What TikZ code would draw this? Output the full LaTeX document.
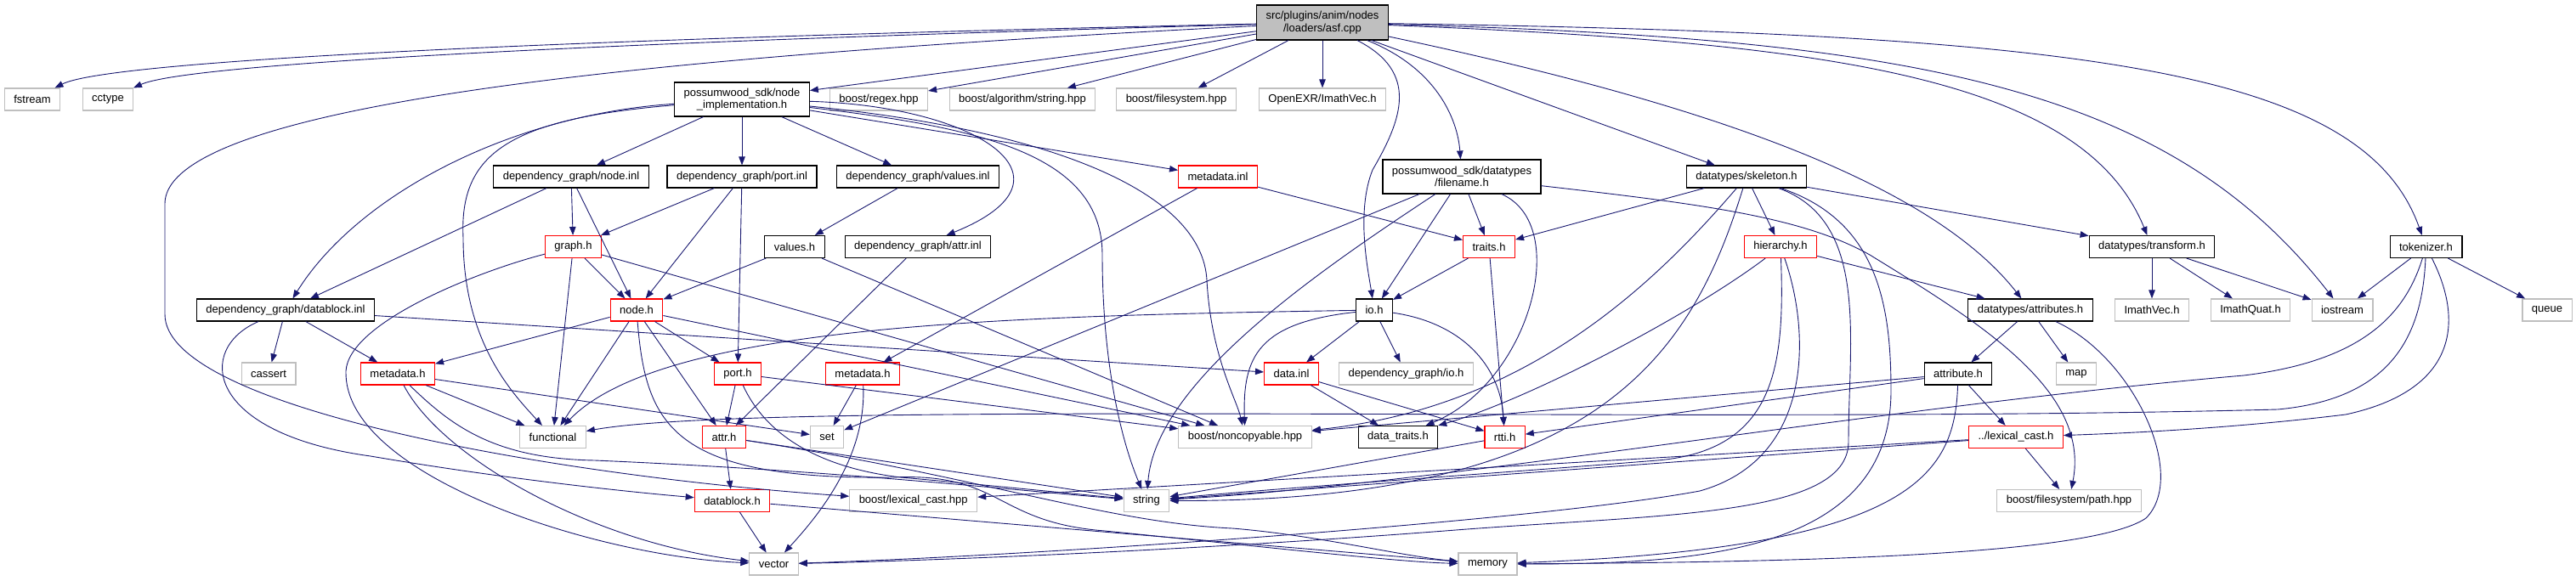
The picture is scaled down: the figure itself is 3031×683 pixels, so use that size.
\documentclass[tikz,border=0pt]{standalone}
\usepackage{fontspec}
\setmainfont{Liberation Sans}
\usetikzlibrary{arrows.meta}
\definecolor{Edge}{HTML}{191970}
\definecolor{Gray}{HTML}{BFBFBF}
\definecolor{Red}{HTML}{FF0000}
\tikzset{
  box/.style={rectangle,line width=1.1pt,fill=white,inner xsep=11pt,inner ysep=0pt,
    minimum height=26pt,align=center,font=\fontsize{13}{14.5}\selectfont},
  sysbox/.style={box,draw=Gray},
  docbox/.style={box,draw=black},
  redbox/.style={box,draw=Red},
  mainbox/.style={box,draw=black,fill=Gray,minimum height=41pt},
  dep/.style={draw=Edge,line width=0.9pt,-{Triangle[length=10pt,width=7.5pt]}}
}
\begin{document}
\begin{tikzpicture}[x=1pt,y=-1pt]
  \useasboundingbox (0,0) rectangle (3031,683);
  \node[mainbox] (main) at (1556,26.5) {src/plugins/anim/nodes\\/loaders/asf.cpp};
  \node[docbox,minimum height=40pt] (nodeimpl) at (873,117) {possumwood\_sdk/node\\\_implementation.h};
  \node[docbox,minimum height=40pt] (filename) at (1720,208) {possumwood\_sdk/datatypes\\/filename.h};
  \foreach \n/\x/\y/\lbl in {fstream/38/117/fstream, cctype/127/117/cctype,
      regex/1034/117/{boost/regex.hpp}, algstr/1203/117/{boost/algorithm/string.hpp},
      fsys/1384/117/{boost/filesystem.hpp}, exrvec/1556/117/{OpenEXR/ImathVec.h},
      imathvec/2532/365/ImathVec.h, imathquat/2648/365/ImathQuat.h,
      iostream/2756/365/iostream, queue/2997/365/queue,
      cassert/316/440/cassert, dgio/1654.5/440/{dependency\_graph/io.h}, stdmap/2443/440/map,
      functional/650.5/514.5/functional, stdset/973/514.5/set,
      noncopy/1465/514.5/{boost/noncopyable.hpp},
      lexcasthpp/1074.7/589.5/{boost/lexical\_cast.hpp}, stdstring/1349/589.5/string,
      fspath/2434.5/589.5/{boost/filesystem/path.hpp},
      stdvector/910.6/664/vector, stdmemory/1750.5/664/memory}
    \node[sysbox] (\n) at (\x,\y) {\lbl};
  \foreach \n/\x/\y/\lbl in {nodeinl/672/208/{dependency\_graph/node.inl},
      portinl/873/208/{dependency\_graph/port.inl}, valuesinl/1080/208/{dependency\_graph/values.inl},
      skeleton/2055/208/{datatypes/skeleton.h}, valuesh/935/290.5/values.h,
      attrinl/1080/290.5/{dependency\_graph/attr.inl}, transform/2532/290.5/{datatypes/transform.h},
      tokenizer/2854.5/290.5/tokenizer.h, datablockinl/336/365/{dependency\_graph/datablock.inl},
      io/1617/365/io.h, attributes/2389/365/{datatypes/attributes.h},
      attribute/2304/440/attribute.h, datatraits/1645/514.5/{data\_traits.h}}
    \node[docbox] (\n) at (\x,\y) {\lbl};
  \foreach \n/\x/\y/\lbl in {metainl/1433/208/metadata.inl, graph/674.5/290.5/graph.h,
      traits/1752/290.5/traits.h, hierarchy/2095/290.5/hierarchy.h, nodeh/749/365/node.h,
      metaleft/468/440/metadata.h, porth/868/440/port.h, metaright/1015/440/metadata.h,
      datainl/1519.5/440/data.inl, attrh/852/514.5/attr.h, rtti/1770.6/514.5/rtti.h,
      lexcast/2372/514.5/{../lexical\_cast.h}, datablockh/861.5/589.5/datablock.h}
    \node[redbox] (\n) at (\x,\y) {\lbl};

  \foreach \a/\b in {main/nodeimpl, main/regex, main/algstr, main/fsys, main/exrvec, main/skeleton,
      nodeimpl/nodeinl, nodeimpl/portinl, nodeimpl/valuesinl, nodeimpl/metainl,
      nodeinl/graph, nodeinl/nodeh, nodeinl/datablockinl, portinl/graph, portinl/nodeh, portinl/porth,
      valuesinl/valuesh, valuesh/nodeh, valuesh/noncopy, attrinl/attrh, metainl/metaright, metainl/traits,
      filename/stdset, filename/io, filename/traits, skeleton/traits, skeleton/hierarchy, skeleton/transform,
      hierarchy/attributes, transform/imathvec, transform/imathquat, transform/iostream,
      tokenizer/iostream, tokenizer/queue, attributes/attribute, attributes/stdmap,
      attribute/lexcast, attribute/noncopy, attribute/rtti, lexcast/fspath, lexcast/stdstring,
      lexcast/lexcasthpp, io/datainl, io/dgio, traits/io, traits/rtti, datainl/datatraits, datainl/rtti,
      datablockinl/cassert, datablockinl/metaleft, datablockinl/datainl,
      graph/nodeh, graph/functional, graph/noncopy, nodeh/metaleft, nodeh/functional, nodeh/porth,
      nodeh/attrh, nodeh/noncopy, porth/attrh, porth/noncopy, metaleft/functional, metaleft/stdset,
      metaright/stdset, attrh/datablockh, attrh/stdstring, datablockh/stdvector, datablockh/stdmemory,
      rtti/stdstring}
    \draw[dep] (\a) -- (\b);

  \draw[dep] (main) .. controls (700,45) and (130,70) .. (fstream);
  \draw[dep] (main) .. controls (700,50) and (220,75) .. (cctype);
  \draw[dep] (main) .. controls (900,60) and (194,110) .. (194,240) -- (194,370)
    .. controls (194,480) and (650,560) .. (lexcasthpp);
  \draw[dep] (main) .. controls (1670,85) and (1650,140) .. (1615,200)
    .. controls (1595,250) and (1610,320) .. (io);
  \draw[dep] (main) .. controls (1690,80) and (1715,140) .. (filename);
  \draw[dep] (main) .. controls (1950,110) and (2260,200) .. (attributes);
  \draw[dep] (main) .. controls (2150,50) and (2450,90) .. (transform);
  \draw[dep] (main) .. controls (2250,45) and (2550,100) .. (iostream);
  \draw[dep] (main) .. controls (2450,40) and (2780,80) .. (tokenizer);

  \draw[dep] (nodeimpl) .. controls (1150,125) and (1280,210) .. (attrinl);
  \draw[dep] (nodeimpl) .. controls (600,135) and (420,230) .. (datablockinl);
  \draw[dep] (nodeimpl) .. controls (600,140) and (540,180) .. (545,280)
    .. controls (545,400) and (600,460) .. (functional);
  \draw[dep] (nodeimpl) .. controls (1150,150) and (1297,180) .. (1297,300)
    .. controls (1297,430) and (1320,520) .. (stdstring);
  \draw[dep] (nodeimpl) .. controls (1250,155) and (1415,230) .. (1420,330)
    .. controls (1425,420) and (1455,470) .. (noncopy);

  \draw[dep] (filename) .. controls (1550,320) and (1360,450) .. (stdstring);
  \draw[dep] (filename) .. controls (1850,265) and (1800,450) .. (datatraits);
  \draw[dep] (filename) .. controls (2000,240) and (2120,255) .. (2200,300)
    .. controls (2330,380) and (2460,460) .. (fspath);

  \draw[dep] (skeleton) .. controls (1950,330) and (1800,480) .. (noncopy);
  \draw[dep] (skeleton) .. controls (1990,420) and (1880,590) .. (stdstring);
  \draw[dep] (skeleton) .. controls (2200,260) and (2175,400) .. (2175,520)
    .. controls (2175,610) and (1950,605) .. (1700,625)
    .. controls (1400,648) and (1100,660) .. (stdvector);
  \draw[dep] (skeleton) .. controls (2210,260) and (2225,360) .. (2225,460)
    .. controls (2225,650) and (2000,664) .. (stdmemory);

  \draw[dep] (hierarchy) .. controls (1990,370) and (1800,470) .. (datatraits);
  \draw[dep] (hierarchy) .. controls (2100,430) and (2090,530) .. (1950,542)
    .. controls (1750,558) and (1500,575) .. (stdstring);
  \draw[dep] (hierarchy) .. controls (2130,390) and (2135,540) .. (2000,578)
    .. controls (1800,615) and (1200,655) .. (stdvector);

  \draw[dep] (tokenizer) .. controls (2900,380) and (2890,460) .. (2760,488)
    .. controls (2620,505) and (2500,510) .. (lexcast);
  \draw[dep] (tokenizer) .. controls (2850,400) and (2810,470) .. (2680,482)
    .. controls (2000,500) and (900,470) .. (functional);
  \draw[dep] (tokenizer) .. controls (2830,370) and (2780,425) .. (2640,442)
    .. controls (2200,480) and (1700,570) .. (stdstring);

  \draw[dep] (attributes) .. controls (2510,420) and (2575,560) .. (2525,610)
    .. controls (2460,655) and (2100,662) .. (stdmemory);
  \draw[dep] (attribute) .. controls (2300,560) and (2250,645) .. (stdmemory);

  \draw[dep] (io) .. controls (1720,380) and (1765,430) .. (rtti);
  \draw[dep] (io) .. controls (1480,380) and (1462,420) .. (noncopy);
  \draw[dep] (io) .. controls (1200,372) and (780,380) .. (functional);

  \draw[dep] (datablockinl) .. controls (230,410) and (240,510) .. (436,537)
    .. controls (600,565) and (750,580) .. (datablockh);
  \draw[dep] (graph) .. controls (560,320) and (410,380) .. (407,437)
    .. controls (404,560) and (700,655) .. (stdvector);
  \draw[dep] (nodeh) .. controls (760,500) and (790,565) .. (1050,562)
    .. controls (1180,556) and (1170,615) .. (1300,625)
    .. controls (1500,645) and (1650,662) .. (stdmemory);
  \draw[dep] (porth) .. controls (900,510) and (960,550) .. (1060,562)
    .. controls (1150,570) and (1250,580) .. (stdstring);
  \draw[dep] (metaleft) .. controls (530,500) and (580,540) .. (700,542)
    .. controls (1000,555) and (1200,578) .. (stdstring);
  \draw[dep] (metaleft) .. controls (520,540) and (700,640) .. (stdvector);
  \draw[dep] (metaright) .. controls (1020,540) and (960,610) .. (stdvector);
  \draw[dep] (attrh) .. controls (1150,560) and (1300,615) .. (1450,622)
    .. controls (1550,630) and (1650,655) .. (stdmemory);
\end{tikzpicture}
\end{document}
